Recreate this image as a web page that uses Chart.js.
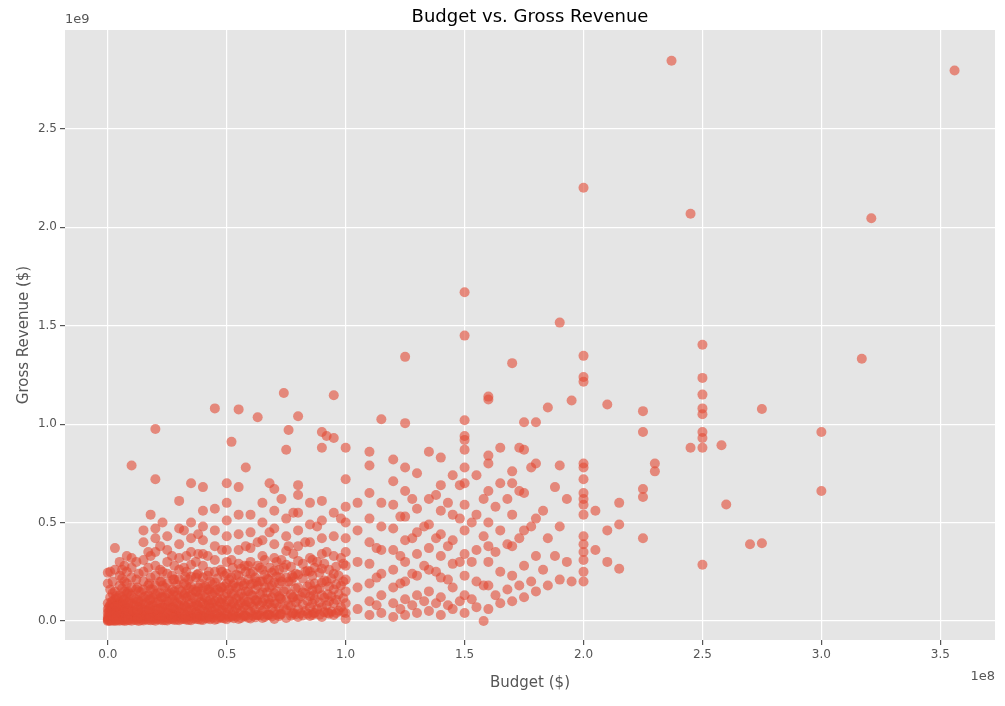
<!DOCTYPE html>
<html>
<head>
<meta charset="utf-8">
<script src="https://cdn.jsdelivr.net/npm/chart.js@4"></script>
<style>
  body { margin: 0; background: #fff; }
  #wrap { width: 1005px; height: 706px; position: relative; }
</style>
</head>
<body>
<div id="wrap"><canvas id="c"></canvas></div>
<script>
// budget (millions $) -> gross revenues (millions $)
const columns = {
    0: [0, 5, 10, 20, 40, 60, 90, 190, 245],
    1: [0, 8, 15, 30, 55, 80, 120, 160, 250],
    2: [2, 10, 25, 45, 70, 100, 140, 200],
    3: [0, 12, 30, 50, 75, 110, 150, 260, 370],
    5: [1, 8, 20, 40, 60, 95, 130, 180, 230, 300],
    6: [3, 15, 35, 55, 85, 120, 165, 215, 260],
    7: [0, 10, 25, 50, 80, 110, 150, 200, 280],
    8: [2, 18, 40, 65, 95, 140, 190, 250, 330],
    10: [1, 12, 30, 55, 90, 130, 170, 220, 270, 320, 790],
    12: [4, 20, 45, 75, 110, 160, 210, 300],
    13: [0, 15, 40, 70, 100, 150, 240],
    15: [2, 10, 30, 55, 85, 120, 160, 200, 250, 310, 400, 460],
    17: [5, 25, 50, 80, 130, 180, 270, 350],
    18: [3, 20, 45, 75, 110, 160, 220, 330, 540],
    20: [1, 12, 35, 60, 95, 135, 180, 230, 280, 350, 420, 470, 720, 975],
    22: [6, 25, 55, 90, 140, 200, 260, 380],
    23: [4, 30, 70, 120, 180, 250, 500],
    25: [2, 15, 40, 70, 100, 140, 190, 240, 300, 360, 430],
    27: [8, 35, 65, 110, 160, 230, 330],
    28: [5, 30, 60, 100, 150, 210, 280],
    30: [3, 20, 45, 80, 115, 160, 210, 260, 320, 390, 470, 610],
    32: [10, 40, 80, 130, 190, 270, 460],
    33: [6, 30, 70, 120, 180, 250, 330],
    35: [4, 25, 55, 90, 130, 175, 225, 285, 350, 420, 500, 700],
    37: [10, 45, 90, 150, 220, 300],
    38: [8, 35, 75, 120, 170, 240, 340, 440],
    40: [5, 25, 55, 90, 125, 170, 220, 280, 340, 410, 480, 560, 680],
    42: [12, 50, 100, 160, 230, 330],
    45: [6, 30, 65, 100, 145, 195, 250, 310, 380, 460, 570, 1080],
    48: [15, 55, 110, 170, 250, 360],
    50: [8, 30, 65, 100, 140, 190, 240, 300, 360, 430, 510, 600, 700],
    52: [20, 70, 140, 220, 310, 910],
    55: [10, 40, 80, 125, 175, 230, 290, 360, 440, 540, 680, 1075],
    58: [25, 80, 150, 250, 380, 780],
    60: [12, 45, 90, 135, 185, 240, 300, 370, 450, 540],
    63: [30, 100, 180, 280, 400, 1035],
    65: [15, 50, 95, 145, 200, 260, 330, 410, 500, 600],
    68: [30, 90, 170, 270, 450, 700],
    70: [10, 45, 90, 140, 195, 255, 320, 390, 470, 560, 670],
    73: [35, 110, 200, 310, 620],
    74: [60, 150, 270, 1158],
    75: [15, 55, 105, 160, 220, 285, 355, 430, 520, 870],
    76: [80, 200, 380, 970],
    78: [40, 120, 220, 340, 550],
    80: [20, 60, 110, 170, 235, 305, 380, 460, 550, 640, 690, 1040],
    83: [50, 140, 250, 400],
    85: [25, 70, 125, 185, 250, 320, 400, 490, 600],
    88: [60, 160, 300, 480],
    90: [20, 70, 130, 195, 265, 340, 420, 510, 610, 880, 960],
    92: [80, 200, 350, 940],
    95: [30, 90, 160, 240, 330, 430, 550, 930, 1147],
    98: [70, 180, 320, 520],
    100: [10, 40, 90, 150, 210, 280, 350, 420, 500, 580, 720, 880],
    105: [60, 170, 300, 460, 600],
    110: [30, 100, 190, 290, 400, 520, 650, 790, 860],
    113: [80, 220, 370],
    115: [40, 130, 240, 360, 480, 600, 1025],
    120: [20, 90, 170, 260, 360, 470, 590, 710, 820],
    123: [60, 190, 330, 530],
    125: [30, 110, 200, 300, 410, 530, 660, 780, 1005, 1342],
    128: [80, 240, 420, 620],
    130: [40, 130, 230, 340, 450, 570, 750],
    133: [100, 280, 480],
    135: [50, 150, 260, 370, 490, 620, 860],
    138: [90, 250, 420, 640],
    140: [30, 120, 220, 330, 440, 560, 690, 830],
    143: [80, 210, 380, 600],
    145: [60, 170, 290, 410, 540, 740],
    148: [100, 300, 520, 690],
    150: [40, 130, 230, 340, 460, 590, 700, 780, 870, 920, 940, 1020, 1450, 1670],
    153: [110, 300, 500],
    155: [70, 200, 360, 540, 740],
    158: [0, 180, 430, 620],
    160: [60, 180, 300, 380, 500, 660, 800, 840, 1125, 1140],
    163: [130, 350, 580],
    165: [90, 250, 460, 700, 880],
    168: [160, 390, 620],
    170: [100, 230, 380, 540, 700, 760, 1310],
    173: [180, 420, 660, 880],
    175: [120, 280, 460, 650, 870, 1010],
    178: [200, 480, 780],
    180: [150, 330, 520, 800, 1010],
    183: [260, 560],
    185: [180, 420, 1085],
    188: [330, 680],
    190: [210, 480, 790, 1516],
    193: [300, 620],
    195: [200, 1120],
    200: [200, 250, 310, 350, 390, 430, 540, 590, 620, 650, 720, 780, 800, 1215, 1240, 1347, 2201],
    205: [360, 560],
    210: [300, 460, 1100],
    215: [265, 490, 600],
    225: [420, 630, 670, 960, 1066],
    230: [760, 800],
    237: [2847],
    245: [880, 2069],
    250: [285, 880, 930, 960, 1050, 1080, 1150, 1235, 1403],
    258: [893],
    260: [592],
    270: [390],
    275: [395, 1077],
    300: [660, 960],
    317: [1332],
    321: [2046],
    356: [2797]
};

// the low, crowded part of the cloud (small budgets, small grosses)
const crowded = {
    0.5: [3, 12, 28, 48, 70], 1.5: [6, 18, 36, 62, 95], 2.5: [4, 22, 42, 66, 88],
    4: [2, 14, 34, 58, 85, 115], 4.5: [8, 26, 50, 78], 6.5: [5, 20, 44, 72, 105],
    9: [3, 16, 38, 64, 98, 140], 11: [6, 24, 48, 80, 115], 14: [4, 18, 42, 68, 100, 145],
    16: [7, 28, 52, 90, 125], 19: [5, 22, 48, 78, 115, 160], 21: [8, 30, 58, 95, 140],
    24: [4, 20, 46, 82, 120, 170], 26: [9, 32, 60, 98, 145], 29: [6, 26, 54, 90, 130, 185],
    31: [10, 36, 66, 105, 150], 34: [5, 24, 52, 88, 125, 165, 210], 36: [12, 40, 72, 115, 160],
    39: [6, 28, 58, 95, 135, 190], 41: [14, 44, 80, 120, 175], 43: [8, 34, 68, 105, 150, 200],
    44: [16, 50, 90, 135, 185], 46: [10, 38, 74, 115, 160, 215], 47: [18, 56, 98, 150],
    49: [12, 42, 80, 125, 175, 230], 51: [20, 60, 105, 160, 210], 53: [14, 46, 88, 135, 190],
    54: [22, 64, 112, 170, 235], 56: [15, 50, 92, 140, 200, 265], 57: [24, 70, 120, 180],
    59: [16, 54, 98, 150, 210, 280], 61: [26, 74, 128, 190, 250], 62: [18, 58, 105, 160, 220],
    64: [28, 78, 135, 200, 270], 66: [20, 62, 112, 170, 235, 310], 67: [30, 84, 145, 215],
    69: [22, 66, 120, 180, 245], 71: [32, 88, 150, 225, 300], 72: [24, 70, 125, 190, 260],
    77: [26, 76, 135, 200, 275], 79: [34, 95, 165, 240], 82: [28, 82, 145, 215, 290],
    84: [36, 100, 175, 255], 86: [30, 88, 155, 230, 310], 87: [40, 110, 190, 270],
    89: [32, 94, 165, 245], 91: [44, 118, 205, 290], 93: [36, 100, 175, 260],
    94: [48, 125, 215], 96: [40, 108, 185, 275], 97: [52, 135, 230], 99: [44, 115, 200, 290]
};

// the solid band right at the bottom
const bottom = {
    3.5: [8, 40, 75, 125], 8.5: [10, 50, 90, 150], 12.5: [12, 55, 100, 170],
    17.5: [15, 60, 110, 190], 22.5: [14, 65, 120, 200], 27.5: [16, 70, 130, 210],
    32.5: [18, 75, 140, 225], 37.5: [20, 80, 150, 235], 42.5: [22, 85, 160, 250],
    47.5: [24, 90, 170, 260], 52.5: [26, 95, 180, 270], 57.5: [28, 100, 190, 280],
    62.5: [30, 105, 200], 67.5: [32, 110, 210], 72.5: [34, 115, 220],
    77.5: [36, 120, 230], 81: [38, 125], 86.5: [40, 130], 92.5: [42, 135]
};

const points = [];
[columns, crowded, bottom].forEach(table => {
    Object.entries(table).forEach(([budget, grosses]) => {
        grosses.forEach(g => points.push({ x: Number(budget), y: g }));
    });
});

const textColor = '#555555';

const labelsPlugin = {
    id: 'labels',
    afterDraw(chart) {
        const ctx = chart.ctx;
        const a = chart.chartArea;
        ctx.save();
        ctx.fillStyle = '#000';
        ctx.font = '18px "DejaVu Sans"';
        ctx.textAlign = 'center';
        ctx.textBaseline = 'bottom';
        ctx.fillText('Budget vs. Gross Revenue', (a.left + a.right) / 2, a.top - 4);
        ctx.fillStyle = textColor;
        ctx.font = '15px "DejaVu Sans"';
        ctx.textBaseline = 'top';
        ctx.fillText('Budget ($)', (a.left + a.right) / 2, a.bottom + 36);
        ctx.save();
        ctx.translate(24, (a.top + a.bottom) / 2);
        ctx.rotate(-Math.PI / 2);
        ctx.textBaseline = 'middle';
        ctx.fillText('Gross Revenue ($)', 0, 0);
        ctx.restore();
        ctx.font = '13px "DejaVu Sans"';
        ctx.textAlign = 'left';
        ctx.textBaseline = 'bottom';
        ctx.fillText('1e9', a.left, a.top - 4);
        ctx.textAlign = 'right';
        ctx.textBaseline = 'top';
        ctx.fillText('1e8', a.right, a.bottom + 30);
        ctx.restore();
    }
};

const bgPlugin = {
    id: 'bg',
    beforeDraw(chart) {
        const a = chart.chartArea;
        chart.ctx.save();
        chart.ctx.fillStyle = '#E5E5E5';
        chart.ctx.fillRect(a.left, a.top, a.right - a.left, a.bottom - a.top);
        chart.ctx.restore();
    }
};

const tickFont = { family: 'DejaVu Sans', size: 12 };

new Chart(document.getElementById('c').getContext('2d'), {
    type: 'scatter',
    data: {
        datasets: [{
            data: points,
            backgroundColor: 'rgba(226, 74, 51, 0.6)',
            borderColor: 'rgba(226, 74, 51, 0.6)',
            borderWidth: 0,
            pointRadius: 5
        }]
    },
    options: {
        responsive: true,
        maintainAspectRatio: false,
        animation: false,
        layout: { padding: { top: 30, right: 10 } },
        plugins: { legend: { display: false }, tooltip: { enabled: false } },
        scales: {
            x: {
                min: -18, max: 373,
                afterFit: s => { s.height = 66; },
                afterBuildTicks: s => { s.ticks = [0, 50, 100, 150, 200, 250, 300, 350].map(v => ({ value: v })); },
                grid: { color: '#ffffff', lineWidth: 1.2, tickLength: 5, tickColor: '#555' },
                border: { display: false },
                ticks: { color: textColor, font: tickFont, maxRotation: 0, callback: v => (v / 100).toFixed(1) }
            },
            y: {
                min: -97, max: 3003,
                afterFit: s => { s.width = 65; },
                afterBuildTicks: s => { s.ticks = [0, 500, 1000, 1500, 2000, 2500].map(v => ({ value: v })); },
                grid: { color: '#ffffff', lineWidth: 1.2, tickLength: 5, tickColor: '#555' },
                border: { display: false },
                ticks: { color: textColor, font: tickFont, callback: v => (v / 1000).toFixed(1) }
            }
        }
    },
    plugins: [bgPlugin, labelsPlugin]
});
</script>
</body>
</html>
